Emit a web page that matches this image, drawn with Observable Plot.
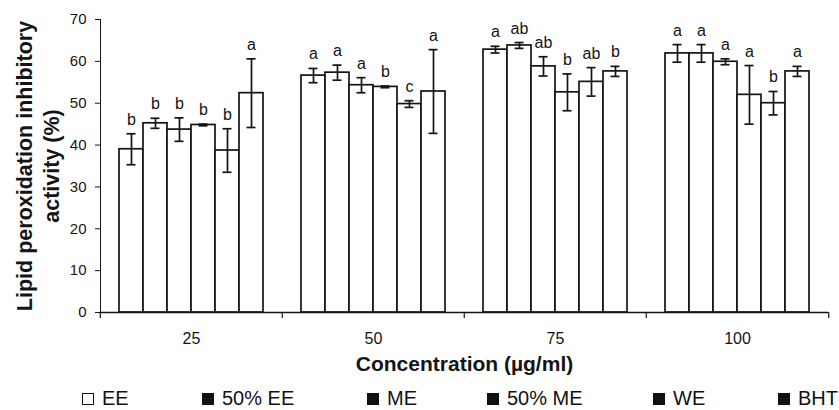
<!DOCTYPE html>
<html>
<head>
<meta charset="utf-8">
<script src="https://cdn.jsdelivr.net/npm/d3@7"></script>
<script src="https://cdn.jsdelivr.net/npm/@observablehq/plot@0.6"></script>
<style>
  html, body { margin: 0; padding: 0; background: #fff; }
  #wrap { position: relative; width: 839px; height: 410px; font-family: "Liberation Sans", Arial, sans-serif; color: #111; }
  #legend { position: absolute; left: 0; top: 386px; width: 839px; height: 24px; font-size: 20px; }
  .item { position: absolute; top: 0; height: 24px; line-height: 24px; white-space: nowrap; }
  .sw { display: inline-block; width: 12px; height: 12px; box-sizing: border-box; background: #111; margin-right: 8px; vertical-align: 0px; }
  .sw.hollow { background: #fff; border: 1.5px solid #111; }
  svg [aria-label="y-axis line"] { stroke-width: 1.5; }
</style>
</head>
<body>
<div id="wrap"><div id="chart"></div><div id="legend"></div></div>
<script>
const concentrations = ["25", "50", "75", "100"];
const series = ["EE", "50% EE", "ME", "50% ME", "WE", "BHT"];
const yTicks = [0, 10, 20, 30, 40, 50, 60, 70];

const values25  = [39.0, 45.2, 43.7, 44.8, 38.7, 52.4];
const errors25  = [3.7, 1.2, 2.8, 0.2, 5.2, 8.2];
const letters25 = ["b", "b", "b", "b", "b", "a"];

const values50  = [56.6, 57.3, 54.3, 53.9, 49.8, 52.8];
const errors50  = [1.7, 1.8, 1.8, 0.2, 0.8, 10.0];
const letters50 = ["a", "a", "a", "b", "c", "a"];

const values75  = [62.8, 63.8, 58.8, 52.6, 55.1, 57.6];
const errors75  = [0.8, 0.7, 2.3, 4.4, 3.4, 1.2];
const letters75 = ["a", "ab", "ab", "b", "ab", "b"];

const values100  = [61.9, 61.9, 59.9, 52.0, 50.0, 57.6];
const errors100  = [2.1, 2.1, 0.7, 7.0, 2.8, 1.2];
const letters100 = ["a", "a", "a", "a", "b", "a"];

const legendSwatchHollow = [true, false, false, false, false, false];

const groups = [
  [values25, errors25, letters25],
  [values50, errors50, letters50],
  [values75, errors75, letters75],
  [values100, errors100, letters100]
];
const data = [];
groups.forEach(([vals, errs, lets], gi) => {
  series.forEach((s, si) => {
    data.push({conc: concentrations[gi], series: s, value: vals[si], err: errs[si], letter: lets[si]});
  });
});

const INK = "#141414";
const W = 839, H = 384, ML = 99, MR = 10;
const half = (W - ML - MR) / concentrations.length / 2;

const chart = Plot.plot({
  width: W,
  height: H,
  marginLeft: ML,
  marginRight: MR,
  marginTop: 19,
  marginBottom: 72,
  style: {fontFamily: "'Liberation Sans', Arial, sans-serif", fontSize: "15px", color: INK, background: "#fff"},
  fx: {domain: concentrations, padding: 0, axis: null},
  x: {domain: series, paddingInner: 0, paddingOuter: 0.75, axis: null},
  y: {domain: [0, 70], ticks: yTicks, tickSize: 5, tickPadding: 9, line: true, label: null},
  marks: [
    Plot.barY(data, {fx: "conc", x: "series", y: "value", fill: "#fff", stroke: INK, strokeWidth: 1.7}),
    Plot.ruleX(data, {fx: "conc", x: "series", y1: d => d.value - d.err, y2: d => d.value + d.err, stroke: INK, strokeWidth: 1.7}),
    Plot.tickY(data, {fx: "conc", x: "series", y: d => d.value + d.err, stroke: INK, strokeWidth: 1.7, insetLeft: 7.5, insetRight: 7.5}),
    Plot.tickY(data, {fx: "conc", x: "series", y: d => d.value - d.err, stroke: INK, strokeWidth: 1.7, insetLeft: 7.5, insetRight: 7.5}),
    Plot.text(data, {fx: "conc", x: "series", y: d => d.value + d.err, text: "letter", lineAnchor: "bottom", dy: -9, fontSize: 16, fill: INK}),
    Plot.ruleY([0], {stroke: INK, strokeWidth: 1.5}),
    Plot.axisFx({anchor: "bottom", tickSize: 0, tickPadding: 20.5, fontSize: 16, label: null, fill: INK}),
    Plot.axisFx({anchor: "bottom", tickSize: 6, text: null, label: null, dx: -half, stroke: INK, strokeWidth: 1.2}),
    Plot.axisFx({anchor: "bottom", ticks: [concentrations[concentrations.length - 1]], tickSize: 6, text: null, label: null, dx: half, stroke: INK, strokeWidth: 1.2}),
    Plot.text(["Lipid peroxidation inhibitory"], {fx: [concentrations[0]], frameAnchor: "left", rotate: -90, lineAnchor: "bottom", textAnchor: "middle", dx: -69, fontSize: 21.5, fontWeight: "bold", fill: INK}),
    Plot.text(["activity (%)"], {fx: [concentrations[0]], frameAnchor: "left", rotate: -90, lineAnchor: "bottom", textAnchor: "middle", dx: -42, fontSize: 21.5, fontWeight: "bold", fill: INK}),
    Plot.text(["Concentration (µg/ml)"], {fx: [concentrations[1]], frameAnchor: "bottom-right", textAnchor: "middle", lineAnchor: "bottom", dy: 58, fontSize: 21, fontWeight: "bold", fill: INK})
  ]
});
document.getElementById("chart").appendChild(chart);

const legendLefts = [82, 202, 367, 487, 653, 778];
const legend = document.getElementById("legend");
series.forEach((s, i) => {
  const item = document.createElement("div");
  item.className = "item";
  item.style.left = legendLefts[i] + "px";
  const sw = document.createElement("span");
  sw.className = "sw" + (legendSwatchHollow[i] ? " hollow" : "");
  item.appendChild(sw);
  item.appendChild(document.createTextNode(s));
  legend.appendChild(item);
});
</script>
</body>
</html>
